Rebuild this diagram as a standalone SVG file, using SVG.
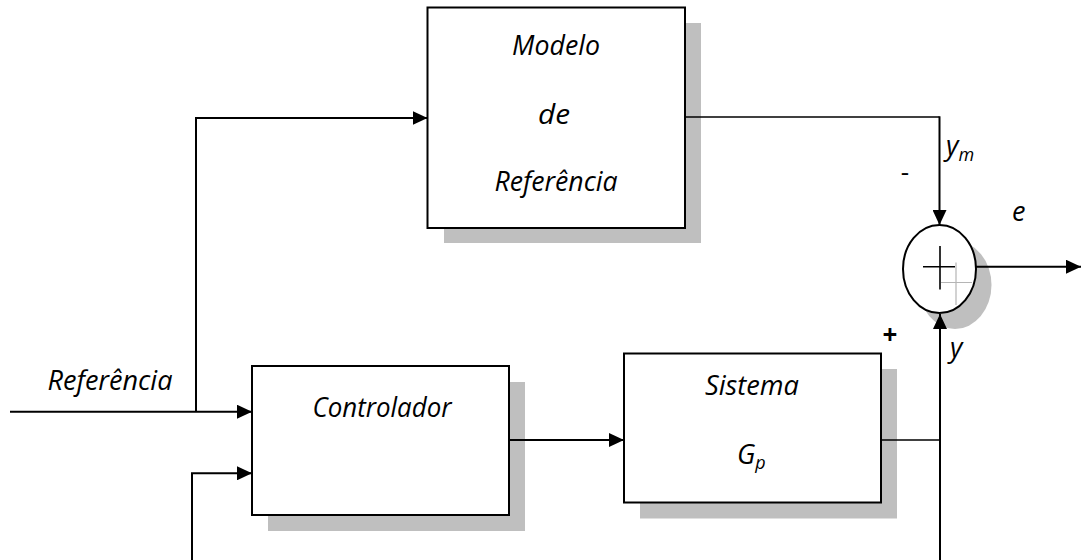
<svg xmlns="http://www.w3.org/2000/svg" width="1081" height="560" viewBox="0 0 1081 560">
<defs>
<style>
.box{fill:#fff;stroke:#000;stroke-width:2}
.shadow{fill:#bfbfbf;stroke:none}
.lbl{font-family:"Open Sans","Liberation Sans",sans-serif;font-style:italic;font-size:27px;fill:#000}
.sub{font-size:18px}
.sign{font-family:"Open Sans","Liberation Sans",sans-serif;font-size:26px;fill:#000}
.w{fill:none;stroke:#000;stroke-width:2}
.t{fill:none;stroke:#000;stroke-width:1.4}
</style>
<marker id="ah" viewBox="0 0 15 14" refX="15" refY="7" markerWidth="15" markerHeight="14" markerUnits="userSpaceOnUse" orient="auto">
<path d="M0,0 L15,7 L0,14 Z" fill="#000"/>
</marker>
</defs>
<rect width="1081" height="560" fill="#fff"/>

<g id="modelo">
<rect class="shadow" x="444" y="23" width="257" height="220"/>
<rect class="box" x="427.5" y="7.5" width="257.5" height="220.5"/>
<text class="lbl" x="556" y="55" text-anchor="middle" textLength="88" lengthAdjust="spacingAndGlyphs">Modelo</text>
<text class="lbl" x="554" y="124" text-anchor="middle" textLength="32" lengthAdjust="spacingAndGlyphs">de</text>
<text class="lbl" x="556" y="191" text-anchor="middle" textLength="123" lengthAdjust="spacingAndGlyphs">Referência</text>
</g>

<g id="controlador">
<rect class="shadow" x="268" y="382" width="257" height="149"/>
<rect class="box" x="252" y="366" width="257" height="149"/>
<text class="lbl" x="382" y="417" text-anchor="middle" textLength="139" lengthAdjust="spacingAndGlyphs">Controlador</text>
</g>

<g id="sistema">
<rect class="shadow" x="640" y="369" width="257" height="149.5"/>
<rect class="box" x="624" y="353.5" width="257" height="149"/>
<text class="lbl" x="752" y="395" text-anchor="middle" textLength="94" lengthAdjust="spacingAndGlyphs">Sistema</text>
<text class="lbl" x="737" y="464">G<tspan class="sub" dy="5">p</tspan></text>
</g>

<g id="somador">
<ellipse cx="955" cy="285" rx="36.5" ry="44" fill="#bfbfbf"/>
<ellipse cx="939.5" cy="269" rx="36.5" ry="44" fill="#fff" stroke="#000" stroke-width="2"/>
<path d="M941,282.5 H972 M956,262.5 V305" fill="none" stroke="#b5b5b5" stroke-width="1.2"/>
<path d="M923,266.7 H955 M940,246 V289.5" fill="none" stroke="#000" stroke-width="1.6"/>
</g>

<g id="connectors">
<path class="w" d="M10,411.7 H252" marker-end="url(#ah)"/>
<path class="w" d="M196,411.7 V118 H427.5" marker-end="url(#ah)"/>
<path class="w" d="M192,560 V473.3 H252" marker-end="url(#ah)"/>
<path class="w" d="M509,440 H624" marker-end="url(#ah)"/>
<path class="t" d="M685,117 H939.5"/>
<path class="w" d="M939.5,116.3 V225" marker-end="url(#ah)"/>
<path class="t" d="M881,440 H940"/>
<path class="w" d="M940,560 V314" marker-end="url(#ah)"/>
<path class="w" d="M976,266.7 H1081" marker-end="url(#ah)"/>
</g>

<g id="labels">
<text class="lbl" x="110" y="390" text-anchor="middle" textLength="125" lengthAdjust="spacingAndGlyphs">Referência</text>
<text class="lbl" x="946" y="155">y<tspan class="sub" dy="6">m</tspan></text>
<text class="sign" x="905" y="181" text-anchor="middle">-</text>
<text class="lbl" x="1012" y="221">e</text>
<text class="sign" x="890" y="344" text-anchor="middle" font-weight="bold">+</text>
<text class="lbl" x="950" y="357">y</text>
</g>
</svg>
